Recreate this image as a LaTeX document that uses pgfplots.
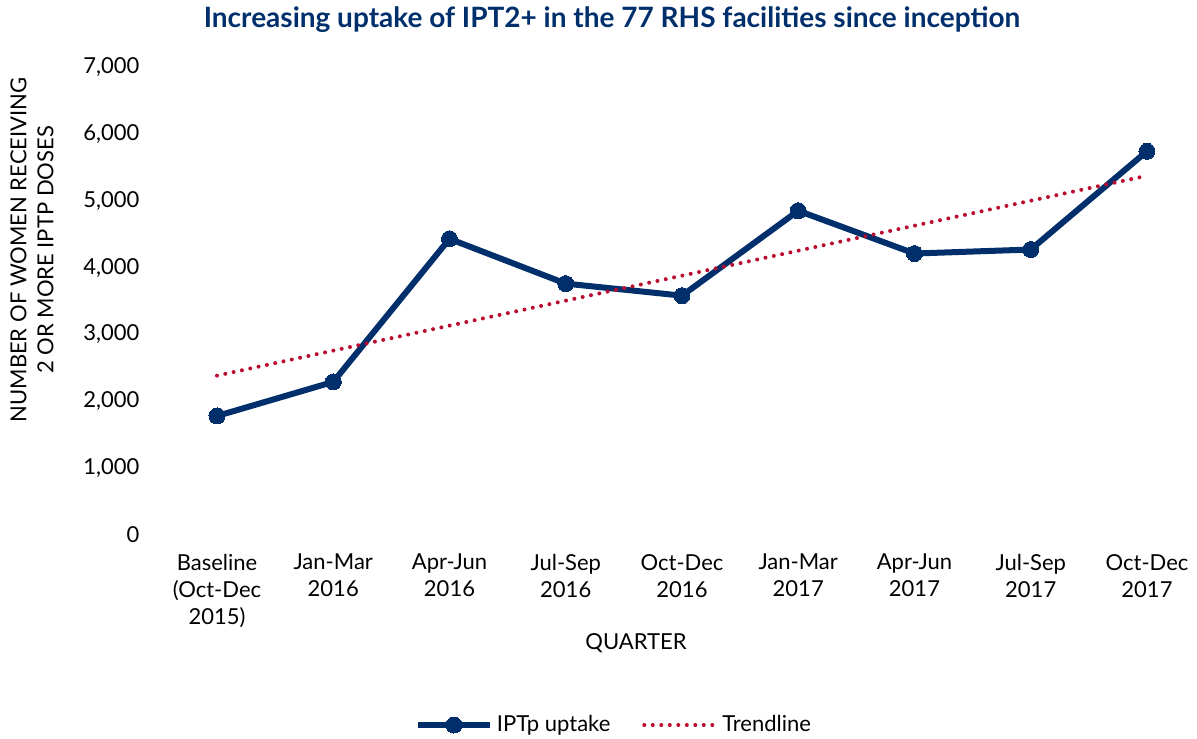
\documentclass[border=0pt]{standalone}
\usepackage{pgfplots}
\pgfplotsset{compat=1.18}
\usepackage{fontspec}
\setmainfont{Lato}
\definecolor{navy}{HTML}{002F6C}
\definecolor{crim}{HTML}{BA0C2F}
\begin{document}
\begin{tikzpicture}
\useasboundingbox (0pt,0pt) rectangle (598.5pt,369pt);
\begin{axis}[
  at={(85.25pt,101.5pt)}, anchor=south west,
  scale only axis, width=511.5pt, height=234pt,
  xmin=-0.4, xmax=8.4, ymin=0, ymax=7000,
  axis line style={draw=none}, tick style={draw=none},
  major tick length=0pt,
  xtick={0,...,8},
  xticklabels={{Baseline\\(Oct-Dec\\2015)},{Jan-Mar\\2016},{Apr-Jun\\2016},{Jul-Sep\\2016},{Oct-Dec\\2016},{Jan-Mar\\2017},{Apr-Jun\\2017},{Jul-Sep\\2017},{Oct-Dec\\2017}},
  xticklabel style={align=center, font=\fontsize{11}{13.5}\selectfont, yshift=-6pt},
  ytick={0,1000,...,7000},
  yticklabel style={font=\fontsize{11}{13.5}\selectfont, xshift=-12pt},
  /pgf/number format/assume math mode=true,
  /pgf/number format/1000 sep={,},
  scaled y ticks=false,
  title={Increasing uptake of IPT2+ in the 77 RHS facilities since inception},
  every axis title/.style={at={(axis description cs:0.4316,1.1004)}, anchor=center, font=\bfseries\fontsize{14}{16}\selectfont, text=navy},
  ylabel={NUMBER OF WOMEN RECEIVING\\2 OR MORE IPTP DOSES},
  every axis y label/.style={at={(axis description cs:-0.1354,0.609)}, rotate=90, anchor=center, align=center, font=\fontsize{11}{13.5}\selectfont},
  xlabel={QUARTER},
  every axis x label/.style={at={(axis description cs:0.455,-0.2308)}, anchor=center, font=\fontsize{11}{13.5}\selectfont},
  legend columns=2,
  legend style={draw=none, at={(axis description cs:0.4345,-0.406)}, anchor=center, font=\fontsize{11}{13.5}\selectfont, /tikz/every even column/.append style={column sep=14pt}},
  legend image code/.code={\draw[mark repeat=2, mark phase=2, #1] plot coordinates {(0pt,0pt) (18pt,0pt) (36pt,0pt)};},
  clip=false,
]
\addplot[navy, line width=3pt, mark=*, mark size=4pt, mark options={fill=navy, draw=navy, line width=0pt}]
  coordinates {(0,1780) (1,2290) (2,4430) (3,3760) (4,3580) (5,4850) (6,4210) (7,4270) (8,5740)};
\addlegendentry{IPTp uptake}
\addplot[crim, line width=2pt, line cap=round, dash pattern=on 0pt off 4.25pt]
  coordinates {(0,2384) (8,5374)};
\addlegendentry{Trendline}
\end{axis}
\end{tikzpicture}
\end{document}
